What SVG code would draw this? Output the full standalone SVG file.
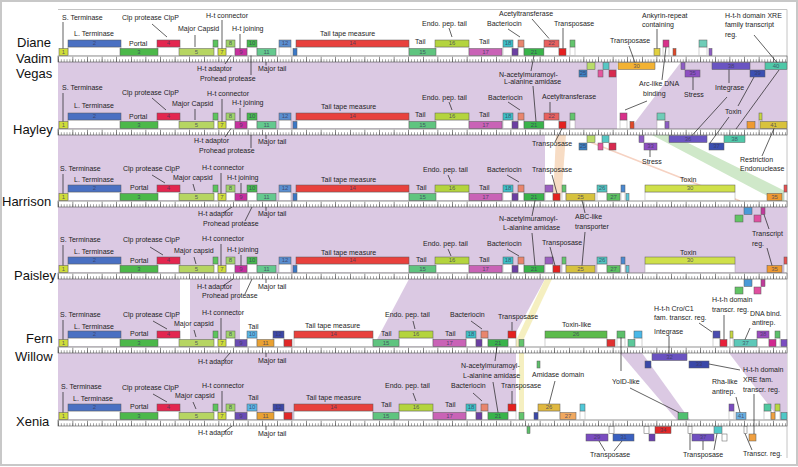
<svg xmlns="http://www.w3.org/2000/svg" xmlns:xlink="http://www.w3.org/1999/xlink" width="798" height="467" viewBox="0 0 798 467">
<style>
.g{stroke:#5a5a5a;stroke-width:.5}
.w{fill:#fff;stroke:#8a8a8a;stroke-width:.4}
.n{font-family:"Liberation Sans",Arial,sans-serif;font-size:6px;fill:#3a3a5a;fill-opacity:.8;text-anchor:middle}
.l{font-family:"Liberation Sans",Arial,sans-serif;font-size:7px;fill:#1e1e1e}
.nm{font-family:"Liberation Sans",Arial,sans-serif;font-size:13px;fill:#111}
.p{stroke:#1e1e1e;stroke-width:.7;fill:none}
.rib{fill:#dbc9e3}
</style>
<defs>
<g id="ruler">
<rect x="58" y="0" width="729" height="6" fill="#fff" stroke="#4a4a4a" stroke-width=".6"/>
<line x1="58" y1="4.6" x2="787" y2="4.6" stroke="#4a4a4a" stroke-width="2.6" stroke-dasharray=".5 2.42"/>
<line x1="58" y1="3.3" x2="787" y2="3.3" stroke="#4a4a4a" stroke-width="5.2" stroke-dasharray=".6 14"/>
</g>
<g id="headA">
<rect class="w" x="68" y="-9" width="53" height="8.5"/><rect class="w" x="157" y="-9" width="23" height="8.5"/><rect class="w" x="213" y="-9" width="5" height="8.5"/><rect class="w" x="226" y="-9" width="9" height="8.5"/>
<rect class="g" x="59" y="-7.5" width="9" height="7" fill="#cfdc3a"/><text class="n" x="63.5" y="-2.2">1</text>
<rect class="g" x="68" y="-16" width="53" height="7" fill="#4a70c2"/><text class="n" x="94.5" y="-10.7">2</text>
<rect class="g" x="120" y="-7.5" width="38" height="7" fill="#4cb84a"/><text class="n" x="139" y="-2.2">3</text>
<rect class="g" x="157" y="-16" width="23" height="7" fill="#e3264f"/><text class="n" x="168.5" y="-10.7">4</text>
<rect class="g" x="179" y="-7.5" width="35" height="7" fill="#b6d562"/><text class="n" x="196.5" y="-2.2">5</text>
<rect class="g" x="213" y="-16" width="5" height="7" fill="#5cc45c"/>
<rect class="g" x="218" y="-7.5" width="8" height="7" fill="#cfdc3a"/><text class="n" x="222" y="-2.2">7</text>
<rect class="g" x="226" y="-16" width="9" height="7" fill="#9fd36a"/><text class="n" x="230.5" y="-10.7">8</text>
</g>
<g id="headB">
<rect class="w" x="247" y="-9" width="10" height="8.5"/><rect class="w" x="279" y="-9" width="12" height="8.5"/><rect class="w" x="296" y="-9" width="113" height="8.5"/><rect class="w" x="435" y="-9" width="34" height="8.5"/><rect class="w" x="503" y="-9" width="10" height="8.5"/><rect class="w" x="518" y="-9" width="6" height="8.5"/>
<rect class="g" x="235" y="-7.5" width="12" height="7" fill="#c6309e"/><text class="n" x="241" y="-2.2">9</text>
<rect class="g" x="247" y="-16" width="10" height="7" fill="#46b84e"/><text class="n" x="252" y="-10.7">10</text>
<rect class="g" x="257" y="-7.5" width="19" height="7" fill="#64c98e"/><text class="n" x="266.5" y="-2.2">11</text>
<rect class="g" x="279" y="-16" width="12" height="7" fill="#5a8ed0"/><text class="n" x="285" y="-10.7">12</text>
<rect class="g" x="293" y="-7.5" width="4" height="7" fill="#3a78c6"/>
<rect class="g" x="296" y="-16" width="113" height="7" fill="#e8413d"/><text class="n" x="352.5" y="-10.7">14</text>
<rect class="g" x="409" y="-7.5" width="27" height="7" fill="#5fc47f"/><text class="n" x="422.5" y="-2.2">15</text>
<rect class="g" x="435" y="-16" width="34" height="7" fill="#b4d43e"/><text class="n" x="452" y="-10.7">16</text>
<rect class="g" x="469" y="-7.5" width="33" height="7" fill="#c963b6"/><text class="n" x="485.5" y="-2.2">17</text>
<rect class="g" x="503" y="-16" width="10" height="7" fill="#3dbfc6"/><text class="n" x="508" y="-10.7">18</text>
<rect class="g" x="512" y="-7.5" width="6" height="7" fill="#6b3fa2"/>
<rect class="g" x="518" y="-16" width="6" height="7" fill="#e9856d"/>
<rect class="g" x="524" y="-7.5" width="20" height="7" fill="#39b34a"/><text class="n" x="534" y="-2.2">21</text>
</g>
<g id="headC">
<rect class="w" x="247" y="-9" width="10" height="8.5"/><rect class="w" x="273" y="-9" width="11" height="8.5"/><rect class="w" x="294" y="-9" width="79" height="8.5"/><rect class="w" x="399" y="-9" width="34" height="8.5"/><rect class="w" x="466" y="-9" width="10" height="8.5"/><rect class="w" x="481" y="-9" width="7" height="8.5"/><rect class="w" x="508" y="-9" width="8" height="8.5"/>
<rect class="g" x="235" y="-7.5" width="12" height="7" fill="#6a4cb4"/><text class="n" x="241" y="-2.2">9</text>
<rect class="g" x="247" y="-16" width="10" height="7" fill="#5ab4e6"/><text class="n" x="252" y="-10.7">10</text>
<rect class="g" x="257" y="-7.5" width="17" height="7" fill="#e9a132"/><text class="n" x="265.5" y="-2.2">11</text>
<rect class="g" x="273" y="-16" width="11" height="7" fill="#3d48a8"/><text class="n" x="278.5" y="-10.7">12</text>
<rect class="g" x="284" y="-7.5" width="8" height="7" fill="#e02828"/>
<rect class="g" x="294" y="-16" width="79" height="7" fill="#e8413d"/><text class="n" x="333.5" y="-10.7">14</text>
<rect class="g" x="373" y="-7.5" width="26" height="7" fill="#5fc47f"/><text class="n" x="386" y="-2.2">15</text>
<rect class="g" x="399" y="-16" width="34" height="7" fill="#b4d43e"/><text class="n" x="416" y="-10.7">16</text>
<rect class="g" x="433" y="-7.5" width="33" height="7" fill="#c963b6"/><text class="n" x="449.5" y="-2.2">17</text>
<rect class="g" x="466" y="-16" width="10" height="7" fill="#3dbfc6"/><text class="n" x="471" y="-10.7">18</text>
<rect class="g" x="476" y="-7.5" width="6" height="7" fill="#6b3fa2"/>
<rect class="g" x="481" y="-16" width="7" height="7" fill="#e9856d"/>
<rect class="g" x="488" y="-7.5" width="20" height="7" fill="#39b34a"/><text class="n" x="498" y="-2.2">21</text>
<rect class="g" x="508" y="-16" width="8" height="7" fill="#e4201f"/>
<rect class="g" x="519" y="-7.5" width="5" height="7" fill="#63c56d"/>
</g>
<g id="ext34">
<rect class="w" x="545" y="-9" width="8" height="8.5"/><rect class="w" x="562" y="-9" width="4" height="8.5"/><rect class="w" x="597" y="-9" width="10" height="8.5"/><rect class="w" x="621" y="-9" width="4" height="8.5"/><rect class="w" x="645" y="-9" width="90" height="8.5"/><rect class="w" x="784" y="-9" width="3" height="8.5"/>
<rect class="g" x="545" y="-16" width="8" height="7" fill="#9b5fc0"/>
<rect class="g" x="553" y="-7.5" width="7" height="7" fill="#e4201f"/>
<rect class="g" x="562" y="-16" width="4" height="7" fill="#63c56d"/>
<rect class="g" x="566" y="-7.5" width="29" height="7" fill="#d6c23e"/><text class="n" x="580.5" y="-2.2">25</text>
<rect class="g" x="597" y="-16" width="10" height="7" fill="#52c5c0"/><text class="n" x="602" y="-10.7">26</text>
<rect class="g" x="607" y="-7.5" width="13" height="7" fill="#5cc060"/><text class="n" x="613.5" y="-2.2">27</text>
<rect class="g" x="621" y="-16" width="4" height="7" fill="#4a88d0"/>
<rect class="g" x="626" y="-7.5" width="3" height="7" fill="#5cc8d8"/>
<rect class="g" x="645" y="-16" width="90" height="7" fill="#cfe04a"/><text class="n" x="690" y="-10.7">30</text>
<rect class="g" x="767" y="-7.5" width="15" height="7" fill="#ef9a30"/><text class="n" x="774.5" y="-2.2">35</text>
<rect class="g" x="784" y="-16" width="3" height="7" fill="#e85050"/>
<rect class="g" x="744" y="6.5" width="8" height="7" fill="#4a9ad8"/>
<rect class="g" x="735" y="14" width="8" height="7" fill="#62c464"/>
<rect class="g" x="761" y="6.5" width="4" height="7" fill="#c03c9a"/>
<rect class="g" x="754" y="14" width="7" height="7" fill="#e050a0"/>
</g>
</defs>

<rect x="0" y="0" width="798" height="467" fill="#fff"/>
<rect x="1" y="1" width="796" height="464" fill="none" stroke="#c8c8c8" stroke-width="2"/>
<path d="M58 9.5H787V458" fill="none" stroke="#c4c4c4" stroke-width="1"/>

<g id="connectors">
<rect class="rib" x="58" y="62" width="559" height="67"/>
<polygon class="rib" points="681,62 787,62 787,129 630,129"/>
<rect class="rib" x="58" y="135" width="487" height="66"/>
<polygon points="556,135 566,135 561,201 553,201" fill="#f7dcc4"/>
<line x1="590" y1="142" x2="740" y2="201" stroke="#f6d2c2" stroke-width="1.5"/>
<polygon points="652,135 672,135 787,192 787,201 777,201" fill="#cfe8c9"/>
<rect class="rib" x="58" y="207" width="729" height="66"/>
<rect class="rib" x="58" y="279" width="122" height="68"/>
<rect class="rib" x="190" y="279" width="50" height="68"/>
<polygon class="rib" points="409,279 545,279 508,347 373,347"/>
<polygon points="545,279 552,279 520,347 513,347" fill="#f5efc0"/>
<rect class="rib" x="58" y="353" width="458" height="67"/>
<rect x="519" y="353" width="5" height="67" fill="#f5efc0"/>
<polygon class="rib" points="620,353 642,353 690,420 677,420"/>
<polygon class="rib" points="729,353 787,353 787,420 780,420"/>
</g>

<g id="row-diane" transform="translate(0,56)">
<use xlink:href="#ruler"/><use xlink:href="#headA"/><use xlink:href="#headB"/>
<rect class="w" x="544" y="-9" width="15" height="8.5"/><rect class="w" x="570" y="-9" width="5" height="8.5"/><rect class="w" x="663" y="-9" width="6" height="8.5"/><rect class="w" x="699" y="-9" width="8" height="8.5"/>
<rect class="g" x="544" y="-16" width="15" height="7" fill="#e8615f"/><text class="n" x="551.5" y="-10.7">22</text>
<rect class="g" x="559" y="-7.5" width="7" height="7" fill="#e4201f"/>
<rect class="g" x="570" y="-16" width="5" height="7" fill="#63c56d"/>
<rect class="g" x="579" y="14" width="8" height="7" fill="#3b80c2"/><text class="n" x="583" y="19.3">25</text>
<rect class="g" x="587" y="6.5" width="8" height="7" fill="#b9dc6a"/>
<rect class="g" x="598" y="14" width="5" height="7" fill="#e4559d"/>
<rect class="g" x="603" y="6.5" width="6" height="7" fill="#56c7c4"/>
<rect class="g" x="609" y="14" width="7" height="7" fill="#d72a4f"/>
<rect class="g" x="618" y="6.5" width="37" height="7" fill="#f2b233"/><text class="n" x="636.5" y="11.8">30</text>
<rect class="g" x="654" y="-7.5" width="6" height="7" fill="#e0d040"/>
<rect class="g" x="663" y="-16" width="6" height="7" fill="#d8308a"/>
<rect class="g" x="673" y="-7.5" width="3" height="7" fill="#e04828"/>
<rect class="g" x="699" y="-16" width="8" height="7" fill="#6fcdb8"/>
<rect class="g" x="709" y="-7.5" width="3" height="7" fill="#8d5cc4"/>
<rect class="g" x="681" y="6.5" width="4" height="7" fill="#8d5cc4"/>
<rect class="g" x="685" y="14" width="15" height="7" fill="#8d4fc2"/><text class="n" x="692.5" y="19.3">35</text>
<rect class="g" x="712" y="6.5" width="38" height="7" fill="#6a55c2"/><text class="n" x="731" y="11.8">38</text>
<rect class="g" x="750" y="14" width="15" height="7" fill="#3b4fb2"/><text class="n" x="757.5" y="19.3">39</text>
<rect class="g" x="765" y="6.5" width="22" height="7" fill="#4fc8a8"/><text class="n" x="776" y="11.8">40</text>
</g>

<g id="row-hayley" transform="translate(0,129)">
<use xlink:href="#ruler"/><use xlink:href="#headA"/><use xlink:href="#headB"/>
<rect class="w" x="544" y="-9" width="15" height="8.5"/><rect class="w" x="570" y="-9" width="5" height="8.5"/><rect class="w" x="620" y="-9" width="7" height="8.5"/><rect class="w" x="657" y="-9" width="8" height="8.5"/><rect class="w" x="759" y="-9" width="3" height="8.5"/>
<rect class="g" x="544" y="-16" width="15" height="7" fill="#e8615f"/><text class="n" x="551.5" y="-10.7">22</text>
<rect class="g" x="559" y="-7.5" width="7" height="7" fill="#e4201f"/>
<rect class="g" x="570" y="-16" width="5" height="7" fill="#63c56d"/>
<rect class="g" x="620" y="-16" width="7" height="7" fill="#d8308a"/>
<rect class="g" x="630" y="-7.5" width="4" height="7" fill="#e04828"/>
<rect class="g" x="657" y="-16" width="8" height="7" fill="#6fcdb8"/>
<rect class="g" x="665" y="-7.5" width="4" height="7" fill="#8d5cc4"/>
<rect class="g" x="759" y="-16" width="3" height="7" fill="#c8d840"/>
<rect class="g" x="747" y="-7.5" width="8" height="7" fill="#ef9a30"/>
<rect class="g" x="760" y="-7.5" width="27" height="7" fill="#d8c23c"/><text class="n" x="773.5" y="-2.2">41</text>
<rect class="g" x="579" y="14" width="8" height="7" fill="#3b80c2"/><text class="n" x="583" y="19.3">25</text>
<rect class="g" x="587" y="6.5" width="8" height="7" fill="#b9dc6a"/>
<rect class="g" x="598" y="14" width="5" height="7" fill="#e4559d"/>
<rect class="g" x="602" y="6.5" width="7" height="7" fill="#56c7c4"/>
<rect class="g" x="609" y="14" width="7" height="7" fill="#d72a4f"/>
<rect class="g" x="639" y="6.5" width="5" height="7" fill="#8d5cc4"/>
<rect class="g" x="644" y="14" width="13" height="7" fill="#8d4fc2"/><text class="n" x="650.5" y="19.3">33</text>
<rect class="g" x="669" y="6.5" width="38" height="7" fill="#6a55c2"/><text class="n" x="688" y="11.8">36</text>
<rect class="g" x="709" y="14" width="15" height="7" fill="#3b4fb2"/><text class="n" x="716.5" y="19.3">37</text>
<rect class="g" x="724" y="6.5" width="21" height="7" fill="#4fc8a8"/><text class="n" x="734.5" y="11.8">38</text>
</g>

<g id="row-harrison" transform="translate(0,201)">
<use xlink:href="#ruler"/><use xlink:href="#headA"/><use xlink:href="#headB"/><use xlink:href="#ext34"/>
</g>

<g id="row-paisley" transform="translate(0,273)">
<use xlink:href="#ruler"/><use xlink:href="#headA"/><use xlink:href="#headB"/><use xlink:href="#ext34"/>
</g>

<g id="row-fern-willow" transform="translate(0,347)">
<use xlink:href="#ruler"/><use xlink:href="#headA"/><use xlink:href="#headC"/>
<rect class="w" x="545" y="-9" width="62" height="8.5"/><rect class="w" x="617" y="-9" width="8" height="8.5"/><rect class="w" x="634" y="-9" width="8" height="8.5"/><rect class="w" x="713" y="-9" width="7" height="8.5"/><rect class="w" x="730" y="-9" width="3" height="8.5"/><rect class="w" x="757" y="-9" width="12" height="8.5"/><rect class="w" x="775" y="-9" width="5" height="8.5"/>
<rect class="g" x="545" y="-16" width="62" height="7" fill="#5cbb4c"/><text class="n" x="576" y="-10.7">26</text>
<rect class="g" x="607" y="-7.5" width="8" height="7" fill="#e03030"/>
<rect class="g" x="617" y="-16" width="8" height="7" fill="#5cc06a"/>
<rect class="g" x="628" y="-7.5" width="7" height="7" fill="#5cc89a"/>
<rect class="g" x="634" y="-16" width="8" height="7" fill="#4ab8e8"/>
<rect class="g" x="713" y="-16" width="7" height="7" fill="#4a4cb0"/>
<rect class="g" x="720" y="-7.5" width="7" height="7" fill="#e8203a"/>
<rect class="g" x="730" y="-16" width="3" height="7" fill="#c8d840"/>
<rect class="g" x="734" y="-7.5" width="23" height="7" fill="#5cc8b8"/><text class="n" x="745.5" y="-2.2">37</text>
<rect class="g" x="757" y="-16" width="12" height="7" fill="#9b4cc0"/><text class="n" x="763" y="-10.7">38</text>
<rect class="g" x="769" y="-7.5" width="7" height="7" fill="#d02890"/>
<rect class="g" x="775" y="-16" width="5" height="7" fill="#5cc06a"/>
<rect class="g" x="781" y="-7.5" width="6" height="7" fill="#7a4cc0"/>
<rect class="g" x="537" y="14" width="3" height="7" fill="#5cc06a"/>
<rect class="g" x="652" y="6.5" width="35" height="7" fill="#6a52c0"/><text class="n" x="669.5" y="11.8">32</text>
<rect class="g" x="645" y="14" width="6" height="7" fill="#3a48a8"/>
<rect class="g" x="689" y="14" width="20" height="7" fill="#3a48a8"/><text class="n" x="699" y="19.3">33</text>
</g>

<g id="row-xenia" transform="translate(0,420)">
<use xlink:href="#ruler"/><use xlink:href="#headA"/><use xlink:href="#headC"/>
<rect class="w" x="538" y="-9" width="22" height="8.5"/><rect class="w" x="580" y="-9" width="5" height="8.5"/><rect class="w" x="729" y="-9" width="5" height="8.5"/><rect class="w" x="764" y="-9" width="7" height="8.5"/><rect class="w" x="775" y="-9" width="5" height="8.5"/>
<rect class="g" x="527" y="6.5" width="3" height="7" fill="#5cc06a"/>
<rect class="g" x="534" y="-7.5" width="4" height="7" fill="#3a48a8"/>
<rect class="g" x="538" y="-16" width="22" height="7" fill="#e0b840"/><text class="n" x="549" y="-10.7">26</text>
<rect class="g" x="560" y="-7.5" width="16" height="7" fill="#f0a860"/><text class="n" x="568" y="-2.2">27</text>
<rect class="g" x="580" y="-16" width="5" height="7" fill="#50c8d8"/>
<rect class="g" x="678" y="-7.5" width="10" height="7" fill="#50c070"/>
<rect class="g" x="729" y="-16" width="5" height="7" fill="#7a4cc0"/>
<rect class="g" x="736" y="-7.5" width="10" height="7" fill="#6ab0e0"/><text class="n" x="741" y="-2.2">41</text>
<rect class="g" x="764" y="-16" width="7" height="7" fill="#50c8a0"/>
<rect class="g" x="775" y="-16" width="5" height="7" fill="#b8d840"/>
<rect class="g" x="771" y="-7.5" width="4" height="7" fill="#f0a040"/>
<rect class="g" x="781" y="-7.5" width="6" height="7" fill="#50c8c8"/>
<rect class="g" x="609" y="6.5" width="5" height="7" fill="#fff"/>
<rect class="g" x="586" y="14" width="22" height="7" fill="#7a4cc0"/><text class="n" x="597" y="19.3">29</text>
<rect class="g" x="613" y="14" width="21" height="7" fill="#3a60c0"/><text class="n" x="623.5" y="19.3">31</text>
<rect class="g" x="644" y="6.5" width="5" height="7" fill="#fff"/>
<rect class="g" x="649" y="14" width="6" height="7" fill="#6a40b0"/>
<rect class="g" x="655" y="6.5" width="16" height="7" fill="#e02828"/><text class="n" x="663" y="11.8">34</text>
<rect class="g" x="688" y="6.5" width="4" height="7" fill="#fff"/>
<rect class="g" x="692" y="14" width="22" height="7" fill="#7050c0"/><text class="n" x="703" y="19.3">37</text>
<rect class="g" x="714" y="6.5" width="8" height="7" fill="#50c8c8"/>
<rect class="g" x="722" y="14" width="5" height="7" fill="#fff"/>
<rect class="g" x="744" y="6.5" width="3" height="7" fill="#fff"/>
<rect class="g" x="749" y="14" width="7" height="7" fill="#f0a040"/>
</g>

<g id="names">
<text class="nm" x="17" y="47">Diane</text>
<text class="nm" x="16" y="63">Vadim</text>
<text class="nm" x="16" y="78">Vegas</text>
<text class="nm" x="13" y="134">Hayley</text>
<text class="nm" x="2" y="206">Harrison</text>
<text class="nm" x="14" y="280">Paisley</text>
<text class="nm" x="26" y="343">Fern</text>
<text class="nm" x="15" y="361">Willow</text>
<text class="nm" x="16" y="426">Xenia</text>
</g>

<g id="labels">
<text class="l" x="62" y="20">S. Terminase</text>
<text class="l" x="74" y="36">L. Terminase</text>
<text class="l" x="122" y="19.5">Clp protease ClpP</text>
<text class="l" x="129" y="46">Portal</text>
<text class="l" x="178" y="31">Major Capsid</text>
<text class="l" x="206" y="17.5">H-t connector</text>
<text class="l" x="232" y="31">H-t joining</text>
<text class="l" x="197" y="71">H-t adaptor</text>
<text class="l" x="200" y="81">Prohead protease</text>
<text class="l" x="258" y="71">Major tail</text>
<text class="l" x="320" y="36">Tail tape measure</text>
<text class="l" x="415" y="44">Tail</text>
<text class="l" x="422" y="26">Endo. pep. tail</text>
<text class="l" x="479" y="44">Tail</text>
<text class="l" x="487" y="26">Bacteriocin</text>
<text class="l" x="499" y="15.5">Acetyltransferase</text>
<text class="l" x="554" y="26">Transposase</text>
<text class="l" x="499" y="77">N-acetylmuramoyl-</text>
<text class="l" x="504" y="84">L-alanine amidase</text>
<text class="l" x="642" y="17.5">Ankyrin-repeat</text>
<text class="l" x="642" y="27">containing</text>
<text class="l" x="610" y="43">Transposase</text>
<text class="l" x="725" y="17.5">H-t-h domain XRE</text>
<text class="l" x="725" y="27">family transcript</text>
<text class="l" x="725" y="37">reg.</text>
<text class="l" x="639" y="86">Arc-like DNA</text>
<text class="l" x="643" y="96">binding</text>
<text class="l" x="684" y="97">Stress</text>
<text class="l" x="715" y="90">Integrase</text>
<text class="l" x="725" y="114">Toxin</text>

<text class="l" x="62" y="90">S. Terminase</text>
<text class="l" x="74" y="108">L. Terminase</text>
<text class="l" x="122" y="95">Clp protease ClpP</text>
<text class="l" x="129" y="119">Portal</text>
<text class="l" x="172" y="106">Major Capsid</text>
<text class="l" x="207" y="96">H-t connector</text>
<text class="l" x="232" y="105">H-t joining</text>
<text class="l" x="194" y="143">H-t adaptor</text>
<text class="l" x="199" y="153">Prohead protease</text>
<text class="l" x="258" y="144">Major tail</text>
<text class="l" x="321" y="109">Tail tape measure</text>
<text class="l" x="415" y="117">Tail</text>
<text class="l" x="422" y="100">Endo. pep. tail</text>
<text class="l" x="479" y="117">Tail</text>
<text class="l" x="488" y="100">Bacteriocin</text>
<text class="l" x="542" y="99">Acetyltransferase</text>
<text class="l" x="532" y="146">Transposase</text>
<text class="l" x="642" y="164">Stress</text>
<text class="l" x="740" y="162">Restriction</text>
<text class="l" x="740" y="171">Endonuclease</text>

<text class="l" x="60" y="171">S. Terminase</text>
<text class="l" x="74" y="182">L. Terminase</text>
<text class="l" x="123" y="171">Clp protease ClpP</text>
<text class="l" x="130" y="190">Portal</text>
<text class="l" x="173" y="180">Major capsid</text>
<text class="l" x="202" y="170">H-t connector</text>
<text class="l" x="227" y="180">H-t joining</text>
<text class="l" x="198" y="216">H-t adaptor</text>
<text class="l" x="203" y="226">Prohead protease</text>
<text class="l" x="258" y="216">Major tail</text>
<text class="l" x="321" y="182">Tail tape measure</text>
<text class="l" x="416" y="190">Tail</text>
<text class="l" x="423" y="172">Endo. pep. tail</text>
<text class="l" x="479" y="190">Tail</text>
<text class="l" x="487" y="172">Bacteriocin</text>
<text class="l" x="532" y="172">Transposase</text>
<text class="l" x="680" y="182">Toxin</text>
<text class="l" x="499" y="221">N-acetylmuramoyl-</text>
<text class="l" x="503" y="230">L-alanine amidase</text>
<text class="l" x="575" y="219">ABC-like</text>
<text class="l" x="575" y="229">transporter</text>
<text class="l" x="752" y="236">Transcript</text>
<text class="l" x="752" y="246">reg.</text>

<text class="l" x="60" y="242">S. Terminase</text>
<text class="l" x="74" y="254">L. Terminase</text>
<text class="l" x="123" y="242">Clp protease ClpP</text>
<text class="l" x="130" y="263">Portal</text>
<text class="l" x="174" y="253">Major capsid</text>
<text class="l" x="202" y="241">H-t connector</text>
<text class="l" x="227" y="252">H-t joining</text>
<text class="l" x="197" y="289">H-t adaptor</text>
<text class="l" x="202" y="298">Prohead protease</text>
<text class="l" x="258" y="289">Major tail</text>
<text class="l" x="321" y="255">Tail tape measure</text>
<text class="l" x="416" y="262">Tail</text>
<text class="l" x="423" y="246">Endo. pep. tail</text>
<text class="l" x="479" y="262">Tail</text>
<text class="l" x="487" y="246">Bacteriocin</text>
<text class="l" x="542" y="245">Transposase</text>
<text class="l" x="680" y="255">Toxin</text>

<text class="l" x="562" y="327">Toxin-like</text>
<text class="l" x="654" y="311">H-t-h Cro/C1</text>
<text class="l" x="654" y="320">fam. transcr. reg.</text>
<text class="l" x="712" y="302">H-t-h domain</text>
<text class="l" x="712" y="312">transcr. reg.</text>
<text class="l" x="750" y="316">DNA bind.</text>
<text class="l" x="752" y="325">antirep.</text>
<text class="l" x="654" y="334">Integrase</text>

<text class="l" x="60" y="317">S. Terminase</text>
<text class="l" x="74" y="329">L. Terminase</text>
<text class="l" x="123" y="317">Clp protease ClpP</text>
<text class="l" x="130" y="336">Portal</text>
<text class="l" x="174" y="326">Major capsid</text>
<text class="l" x="202" y="315">H-t connector</text>
<text class="l" x="248" y="329">Tail</text>
<text class="l" x="198" y="364">H-t adaptor</text>
<text class="l" x="258" y="363">Major tail</text>
<text class="l" x="305" y="328">Tail tape measure</text>
<text class="l" x="381" y="336">Tail</text>
<text class="l" x="385" y="317">Endo. pep. tail</text>
<text class="l" x="445" y="336">Tail</text>
<text class="l" x="450" y="317">Bacteriocin</text>
<text class="l" x="498" y="319">Transposase</text>
<text class="l" x="461" y="368">N-acetylmuramoyl-</text>
<text class="l" x="463" y="378">L-alanine amidase</text>
<text class="l" x="612" y="384">YoID-like</text>
<text class="l" x="532" y="377">Amidase domain</text>
<text class="l" x="712" y="384">Rha-like</text>
<text class="l" x="712" y="394">antirep.</text>
<text class="l" x="743" y="372">H-t-h domain</text>
<text class="l" x="743" y="382">XRE fam.</text>
<text class="l" x="743" y="392">transcr. reg.</text>

<text class="l" x="61" y="389">S. Terminase</text>
<text class="l" x="73" y="401">L. Terminase</text>
<text class="l" x="122" y="390">Clp protease ClpP</text>
<text class="l" x="130" y="409">Portal</text>
<text class="l" x="175" y="398">Major capsid</text>
<text class="l" x="202" y="388">H-t connector</text>
<text class="l" x="248" y="400">Tail</text>
<text class="l" x="198" y="435">H-t adaptor</text>
<text class="l" x="258" y="436">Major tail</text>
<text class="l" x="306" y="400">Tail tape measure</text>
<text class="l" x="381" y="407">Tail</text>
<text class="l" x="385" y="388">Endo. pep. tail</text>
<text class="l" x="445" y="407">Tail</text>
<text class="l" x="451" y="388">Bacteriocin</text>
<text class="l" x="501" y="388">Transposase</text>
<text class="l" x="590" y="457">Transposase</text>
<text class="l" x="683" y="457">Transposase</text>
<text class="l" x="743" y="456">Transcr. reg.</text>
</g>

<g id="leaders" class="p">
<path d="M63 22V48.5M152 24L167 37M195 35V47M222 20V48.5M240 34V48.5M225 64L231 55.5M251 55.5V75M266 62V65.5M449 28L452 37M508 29L520 37M532 19L549 38.5M563 28V48.5M531 71L534 55.5M533 86L536 121.5M657 29V48.5M629 46L635 62.5M754 35L777 62.5M662 80L666 47M625 110L647 101M693 77V90M729 69.5V83M727 97L692 135.5M754 77L738 106M729 117L710 143M779 70L736 129"/>
<path d="M63 93V121.5M152 98L166 110M195 109V120M222 99V121.5M240 108V121.5M225 137L231 128.5M251 135V148M266 135V139M449 102L452 110M508 102L520 110M550 102V112.5M555 142L562 128.5M650 150V157M762 156L774 128.5"/>
<path d="M63 174V193.5M152 175L165 183M193 184L195 191M221 173V193.5M241 183V193.5M223 213L232 207M245 221L252 207M266 207V211M448 175L451 182M507 175L519 182M552 175L557 193.5M532 216L535 200.5M532 233L535 265.5M585 213L582 200.5M585 232L582 265.5M769 229L764 214.5M767 248L772 265.5"/>
<path d="M63 245V265.5M150 247L163 255M194 257L196 264M221 244V265.5M241 255V265.5M223 286L233 279M245 294L252 279M266 279V283M448 249L451 256M507 249L519 256M550 247L555 265.5"/>
<path d="M699 323L712 332M724 315V339.5M750 328L745 339.5M669 336V353.5"/>
<path d="M63 320V339.5M153 321L167 329M194 330L196 337M221 318V339.5M223 361L230 353M266 353V357M413 321L415 329M471 321L482 329M512 322V330.5M495 361L497 346.5M493 382L498 412.5M630 388L679 412.5M621 371V337.5M555 381L549 404M736 397L740 412.5M709 364L740 370M754 394V434"/>
<path d="M63 392V412.5M153 394L167 402M193 402L196 409M222 391V412.5M224 432L232 426M266 426V430M413 393L416 401M473 393L482 401M512 391V404M605 451L599 441M614 451L622 441M690 450V433.5M703 450V441M714 450L717 433.5M752 450L745 433.5"/>
</g>
</svg>
